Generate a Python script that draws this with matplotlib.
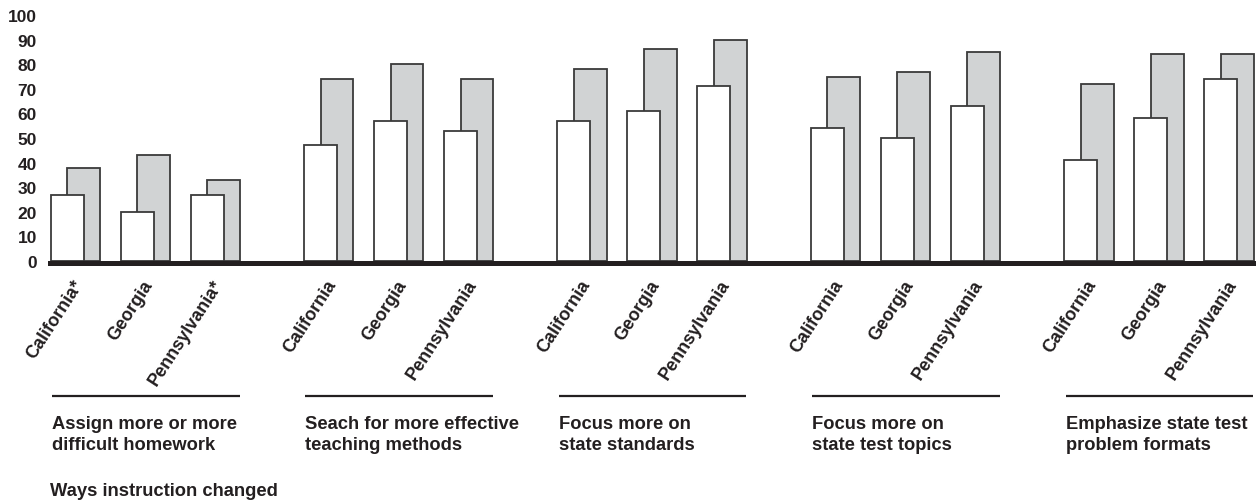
import numpy as np
import matplotlib
matplotlib.use("Agg")
from matplotlib import pyplot as plt

plt.rcParams['font.family'] = ['Liberation Sans', 'DejaVu Sans']
plt.rcParams['font.weight'] = 'bold'

## data
groups = ['Assign more or more\ndifficult homework',
          'Seach for more effective\nteaching methods',
          'Focus more on\nstate standards',
          'Focus more on\nstate test topics',
          'Emphasize state test\nproblem formats']
states = [['California*', 'Georgia', 'Pennsylvania*'],
          ['California', 'Georgia', 'Pennsylvania'],
          ['California', 'Georgia', 'Pennsylvania'],
          ['California', 'Georgia', 'Pennsylvania'],
          ['California', 'Georgia', 'Pennsylvania']]
white_vals = [[27, 20, 27], [47, 57, 53], [57, 61, 71], [54, 50, 63], [41, 58, 74]]
gray_vals = [[38, 43, 33], [74, 80, 74], [78, 86, 90], [75, 77, 85], [72, 84, 84]]
yticks = list(range(0, 101, 10))
xlabel_text = 'Ways instruction changed'

txt = '#231f20'
grey = '#d1d3d4'
edge = '#3a3a3a'

W, H = 1256, 502
fig = plt.figure(figsize=(W / 100, H / 100), dpi=100)
ax = fig.add_axes([50 / W, 1 - 262 / H, 1206 / W, 246 / H])

step = 3.62   # group spacing in slot units
bw = 0.47     # bar width
off = 0.235   # shift of grey bar

for g in range(len(groups)):
    x = g * step + np.arange(3)
    ax.bar(x + off, gray_vals[g], width=bw, align='edge', color=grey,
           edgecolor=edge, linewidth=1.3, zorder=2)
    ax.bar(x, white_vals[g], width=bw, align='edge', color='white',
           edgecolor=edge, linewidth=1.3, zorder=3)
    for j in range(3):
        ax.text(x[j] + 0.31, -6.3, states[g][j], rotation=57, ha='right', va='top',
                rotation_mode='anchor', fontsize=13, color=txt, clip_on=False)
    ## line under each group and the group name
    ax.plot([g * step + 0.02, g * step + 2.7], [-54.8, -54.8], color=txt,
            lw=1.6, clip_on=False, solid_capstyle='butt')
    ax.text(g * step + 0.02, -62.5, groups[g], ha='left', va='top', fontsize=13.2,
            color=txt, linespacing=1.3, clip_on=False)

## thick base line
ax.axhline(-0.95, color=txt, lw=3.6, clip_on=False, zorder=4)

ax.set_xlim(-0.01, 17.22)
ax.set_ylim(0, 100)
ax.set_yticks(yticks)
ax.set_yticklabels([str(t) for t in yticks], fontsize=12.5, color=txt, fontweight='bold')
ax.tick_params(axis='y', length=0, pad=9.5)
ax.set_xticks([])
for s in ax.spines.values():
    s.set_visible(False)

fig.text(50 / W, 1 - 483 / H, xlabel_text, ha='left', va='top', fontsize=13.2,
         color=txt)

fig.savefig('out.png', dpi=100)
